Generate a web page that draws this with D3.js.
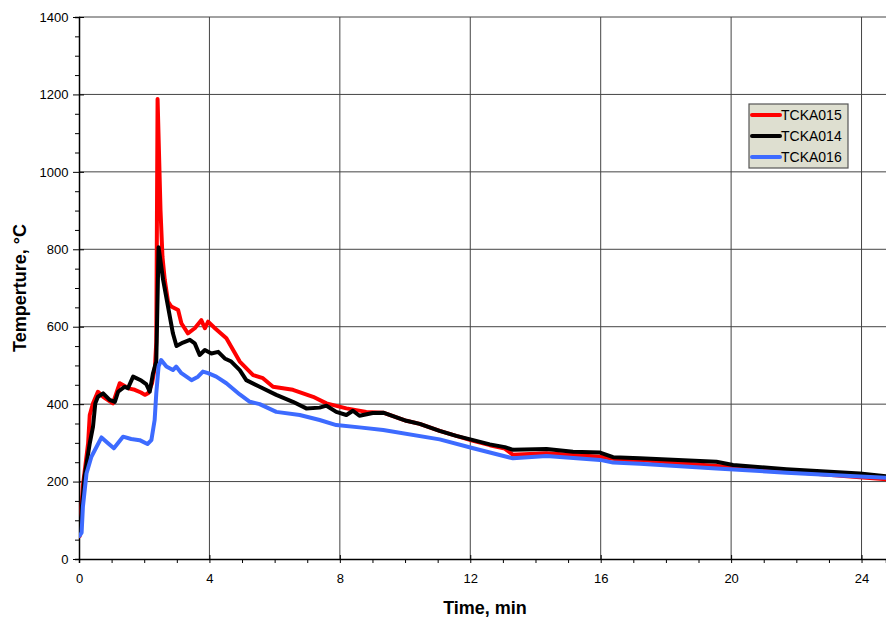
<!DOCTYPE html>
<html>
<head>
<meta charset="utf-8">
<script src="https://cdn.jsdelivr.net/npm/d3@7"></script>
<style>
  body { margin: 0; background: #fff; }
  svg { display: block; font-family: "Liberation Sans", Arial, sans-serif; }
</style>
</head>
<body>
<svg id="chart" width="886" height="619"></svg>
<script>
// series data (time in min, temperature in °C)
const seriesNames = ["TCKA015", "TCKA014", "TCKA016"];

const tcka015Time = [0.02, 0.12, 0.28, 0.33, 0.43, 0.58, 0.74, 0.9, 1.04, 1.15, 1.25, 1.4, 1.55, 1.71, 1.9, 2.02, 2.12, 2.24, 2.33, 2.37, 2.41, 2.5, 2.56, 2.63, 2.73, 2.83, 3.04, 3.14, 3.34, 3.55, 3.75, 3.86, 3.96, 4.17, 4.52, 4.93, 5.34, 5.64, 5.95, 6.56, 7.18, 7.59, 8.2, 8.81, 9.33, 10.04, 10.45, 11.06, 11.57, 12.09, 12.6, 13.06, 13.31, 14.34, 15.98, 16.59, 17.2, 19.55, 21.7, 23.95, 24.75];
const tcka015Temp = [59, 190, 299, 372, 402, 432, 419, 410, 402, 430, 454, 447, 440, 437, 430, 424, 428, 454, 497, 560, 1188, 900, 780, 721, 665, 652, 643, 609, 583, 596, 617, 596, 613, 596, 570, 510, 475, 467, 445, 437, 419, 402, 389, 380, 378, 357, 349, 331, 318, 305, 294, 285, 269, 273, 264, 256, 256, 240, 226, 211, 206];

const tcka014Time = [0.02, 0.17, 0.33, 0.43, 0.5, 0.58, 0.74, 0.94, 1.1, 1.2, 1.4, 1.5, 1.66, 1.91, 2.06, 2.17, 2.27, 2.37, 2.44, 2.58, 2.73, 2.88, 2.99, 3.19, 3.4, 3.55, 3.7, 3.86, 4.06, 4.27, 4.47, 4.67, 4.93, 5.13, 5.54, 6.05, 6.56, 6.97, 7.38, 7.59, 7.89, 8.2, 8.4, 8.6, 9.01, 9.33, 10.04, 10.45, 11.06, 11.57, 12.09, 12.6, 13.06, 13.31, 14.34, 15.15, 15.98, 16.38, 17.2, 19.55, 20.06, 21.7, 23.95, 24.75];
const tcka014Temp = [67, 213, 299, 342, 402, 419, 428, 411, 406, 432, 445, 441, 471, 461, 452, 432, 480, 510, 805, 721, 652, 583, 550, 559, 566, 557, 527, 540, 531, 535, 518, 510, 488, 462, 445, 424, 406, 389, 391, 396, 380, 372, 383, 370, 377, 378, 357, 349, 331, 318, 307, 296, 289, 282, 284, 277, 275, 263, 260, 251, 243, 232, 221, 214];

const tcka016Time = [0.02, 0.08, 0.12, 0.23, 0.38, 0.69, 0.89, 1.07, 1.35, 1.6, 1.86, 2.1, 2.22, 2.32, 2.37, 2.44, 2.52, 2.68, 2.88, 2.98, 3.14, 3.45, 3.65, 3.8, 3.96, 4.21, 4.52, 4.93, 5.24, 5.54, 6.05, 6.77, 7.38, 7.89, 8.6, 9.33, 11.06, 12.09, 13.31, 14.34, 15.98, 16.38, 17.2, 19.55, 21.7, 23.95, 24.75];
const tcka016Temp = [60, 68, 135, 221, 264, 314, 299, 286, 316, 310, 307, 297, 307, 359, 428, 497, 514, 497, 488, 497, 480, 462, 471, 484, 480, 471, 454, 425, 406, 400, 380, 372, 359, 346, 340, 333, 309, 286, 260, 266, 256, 249, 246, 234, 223, 213, 210];

const xTicks = [0, 4, 8, 12, 16, 20, 24];
const yTicks = [0, 200, 400, 600, 800, 1000, 1200, 1400];
const colors = ["#ff0000", "#000000", "#3d6bff"];

const svg = d3.select("#chart");
const plotLeft = 79, plotRight = 886, plotTop = 17, plotBottom = 559;

const x = d3.scaleLinear().domain([0, 24.75]).range([plotLeft, plotRight]);
const y = d3.scaleLinear().domain([0, 1400]).range([plotBottom, plotTop]);

// grid
const grid = svg.append("g");
grid.selectAll(".hg")
    .data(yTicks.filter(d => d > 0))
    .enter()
    .append("line")
    .attr("x1", plotLeft).attr("x2", plotRight)
    .attr("y1", d => y(d)).attr("y2", d => y(d))
    .attr("stroke", "#444").attr("stroke-width", 1);
grid.selectAll(".vg")
    .data(xTicks.filter(d => d > 0))
    .enter()
    .append("line")
    .attr("x1", d => x(d)).attr("x2", d => x(d))
    .attr("y1", plotTop).attr("y2", plotBottom)
    .attr("stroke", "#444").attr("stroke-width", 1);

// axes: minor ticks outside, major ticks crossing the axis line
const xAxis = d3.axisBottom(x).tickValues(d3.range(0, 25, 1)).tickSize(4)
    .tickFormat(d => xTicks.includes(d) ? d : "");
const gx = svg.append("g").attr("transform", `translate(0,${plotBottom})`).call(xAxis);
gx.select(".domain").attr("stroke", "#000").attr("stroke-width", 1.5);
gx.selectAll(".tick line").attr("stroke", "#000")
    .attr("y1", d => xTicks.includes(d) ? -4 : 0);
gx.selectAll(".tick text").attr("font-size", 13).attr("y", 8).attr("dy", "1.2em")
    .attr("font-family", "'Liberation Sans', Arial, sans-serif");

const yAxis = d3.axisLeft(y).tickValues(d3.range(0, 1401, 50)).tickSize(4)
    .tickFormat(d => yTicks.includes(d) ? d : "");
const gy = svg.append("g").attr("transform", `translate(${plotLeft},0)`).call(yAxis);
gy.select(".domain").attr("stroke", "#000").attr("stroke-width", 1.5);
gy.selectAll(".tick line").attr("stroke", "#000")
    .attr("x2", d => yTicks.includes(d) ? -6 : -4)
    .attr("x1", d => yTicks.includes(d) ? 5 : 0);
gy.selectAll(".tick text").attr("font-size", 13).attr("x", -10.5)
    .attr("font-family", "'Liberation Sans', Arial, sans-serif");

// series
const series = [
    { name: seriesNames[0], t: tcka015Time, v: tcka015Temp, color: colors[0] },
    { name: seriesNames[1], t: tcka014Time, v: tcka014Temp, color: colors[1] },
    { name: seriesNames[2], t: tcka016Time, v: tcka016Temp, color: colors[2] }
];

const line = d3.line().x(d => x(d[0])).y(d => y(d[1]));

svg.append("defs").append("clipPath").attr("id", "plot-clip")
    .append("rect").attr("x", plotLeft).attr("y", 0)
    .attr("width", plotRight - plotLeft).attr("height", plotBottom);

svg.append("g").attr("clip-path", "url(#plot-clip)")
    .selectAll(".series")
    .data(series)
    .enter()
    .append("path")
    .attr("fill", "none")
    .attr("stroke", d => d.color)
    .attr("stroke-width", 4)
    .attr("stroke-linejoin", "round")
    .attr("stroke-linecap", "round")
    .attr("d", d => line(d.t.map((t, i) => [t, d.v[i]])));

// legend
const legend = svg.append("g").attr("transform", "translate(749,104)");
legend.append("rect")
    .attr("width", 99).attr("height", 64)
    .attr("fill", "#dedfd0").attr("stroke", "#555").attr("stroke-width", 1.2);
const items = legend.selectAll(".item")
    .data(series)
    .enter()
    .append("g")
    .attr("transform", (d, i) => `translate(0,${11 + i * 21})`);
items.append("line")
    .attr("x1", 3).attr("x2", 31).attr("y1", 0).attr("y2", 0)
    .attr("stroke", d => d.color).attr("stroke-width", 4).attr("stroke-linecap", "round");
items.append("text")
    .attr("x", 32).attr("y", 5)
    .attr("font-size", 14)
    .text(d => d.name);

// axis titles
svg.append("text")
    .attr("x", 485).attr("y", 614)
    .attr("text-anchor", "middle")
    .attr("font-size", 18).attr("font-weight", "bold")
    .text("Time, min");
svg.append("text")
    .attr("transform", "translate(26,288) rotate(-90)")
    .attr("text-anchor", "middle")
    .attr("font-size", 18).attr("font-weight", "bold")
    .text("Temperture, °C");
</script>
</body>
</html>
